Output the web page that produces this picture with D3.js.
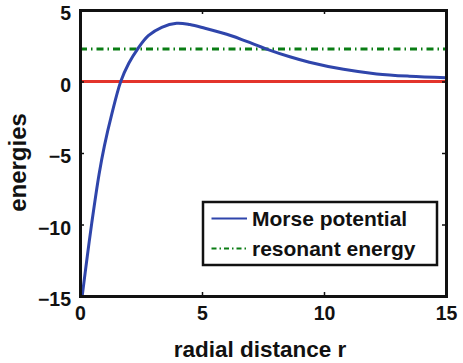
<!DOCTYPE html>
<html>
<head>
<meta charset="utf-8">
<script src="https://cdn.jsdelivr.net/npm/d3@7"></script>
<style>
  html, body { margin: 0; padding: 0; background: #fff; }
  svg { display: block; font-family: "Liberation Sans", Arial, sans-serif; font-weight: bold; }
</style>
</head>
<body>
<svg id="chart" width="463" height="363"></svg>
<script>
// Data
const radius = [0.09, 0.3, 0.48, 0.78, 1.0, 1.3, 1.67, 2.0, 2.36, 2.8, 3.35, 3.96, 4.5, 5.12, 6.2, 6.83, 7.65, 8.6, 9.4, 10.8, 12.16, 13.5, 15];
const morse  = [-15, -12.2, -9.92, -6.5, -4.5, -2.3, 0, 1.28, 2.27, 3.2, 3.79, 4.07, 3.98, 3.72, 3.2, 2.8, 2.27, 1.73, 1.35, 0.85, 0.53, 0.37, 0.27];
const resonantEnergy = 2.27;
const zeroLevel = 0;
const xTicks = [0, 5, 10, 15];
const yTicks = [-15, -10, -5, 0, 5];
const legendLabels = ["Morse potential", "resonant energy"];

const svg = d3.select("#chart");
const L = 80, R = 446, T = 10, B = 296;
const x = d3.scaleLinear().domain([0, 15]).range([L, R]);
const y = d3.scaleLinear().domain([-15, 5]).range([B, T]);

svg.append("defs").append("clipPath").attr("id", "clip")
  .append("rect").attr("x", L).attr("y", T).attr("width", R - L).attr("height", B - T);

const g = svg.append("g").attr("clip-path", "url(#clip)");

// zero line (red)
g.append("line")
  .attr("x1", x(0)).attr("x2", x(15))
  .attr("y1", y(zeroLevel)).attr("y2", y(zeroLevel))
  .attr("stroke", "#e3342b").attr("stroke-width", 3);

// resonant energy (green dash-dot)
g.append("line")
  .attr("x1", x(0)).attr("x2", x(15))
  .attr("y1", y(resonantEnergy)).attr("y2", y(resonantEnergy))
  .attr("stroke", "#0a7d14").attr("stroke-width", 3)
  .attr("stroke-dasharray", "7,4,1.5,4");

// Morse curve
const line = d3.line().x((d, i) => x(radius[i])).y(d => y(d)).curve(d3.curveCatmullRom.alpha(0.5));
g.append("path").datum(morse)
  .attr("d", line)
  .attr("fill", "none")
  .attr("stroke", "#2f45ab").attr("stroke-width", 3);

// Axes
const xAxisB = d3.axisBottom(x).tickValues(xTicks).tickSize(-4).tickPadding(10).tickFormat(d3.format("d"));
const xAxisT = d3.axisTop(x).tickValues(xTicks).tickSize(-4).tickFormat("");
const yAxisL = d3.axisLeft(y).tickValues(yTicks).tickSize(-4).tickPadding(9)
  .tickFormat(d => d < 0 ? "\u2212" + Math.abs(d) : d);
const yAxisR = d3.axisRight(y).tickValues(yTicks).tickSize(-4).tickFormat("");

function style(sel) {
  sel.select(".domain").attr("stroke", "#111").attr("stroke-width", 3);
  sel.selectAll(".tick line").attr("stroke", "#111").attr("stroke-width", 1.5);
  sel.selectAll("text").attr("fill", "#111").attr("font-size", 19.5).attr("font-weight", "bold")
     .attr("font-family", "'Liberation Sans', Arial, sans-serif");
}
const gx = svg.append("g").attr("transform", `translate(0,${B})`).call(xAxisB).call(style);
gx.selectAll(".tick text").attr("dy", "0.71em");
svg.append("g").attr("transform", `translate(0,${T})`).call(xAxisT).call(style);
const gy = svg.append("g").attr("transform", `translate(${L},0)`).call(yAxisL).call(style);
gy.selectAll(".tick text").attr("dy", "0.5em");
svg.append("g").attr("transform", `translate(${R},0)`).call(yAxisR).call(style);
svg.selectAll(".domain").attr("stroke-linecap", "square");

// Axis labels
svg.append("text")
  .attr("x", 260).attr("y", 356.5)
  .attr("text-anchor", "middle").attr("font-size", 22.5).attr("fill", "#111")
  .text("radial distance r");
svg.append("text")
  .attr("transform", `translate(26,162.5) rotate(-90)`)
  .attr("text-anchor", "middle").attr("font-size", 24).attr("fill", "#111")
  .text("energies");

// Legend
const lg = svg.append("g");
lg.append("rect").attr("x", 203).attr("y", 202).attr("width", 234).attr("height", 63)
  .attr("fill", "#fff").attr("stroke", "#111").attr("stroke-width", 2.5);
const rows = [
  { label: legendLabels[0], color: "#2f45ab", dash: null, w: 2 },
  { label: legendLabels[1], color: "#0a7d14", dash: "5,3,1.5,3", w: 2 }
];
rows.forEach((r, i) => {
  const cy = 218.5 + i * 30;
  lg.append("line").attr("x1", 211.5).attr("x2", 247).attr("y1", cy).attr("y2", cy)
    .attr("stroke", r.color).attr("stroke-width", r.w)
    .attr("stroke-dasharray", r.dash);
  lg.append("text").attr("x", 252).attr("y", cy).attr("dy", "0.36em")
    .attr("font-size", 21).attr("fill", "#111").text(r.label);
});
</script>
</body>
</html>
